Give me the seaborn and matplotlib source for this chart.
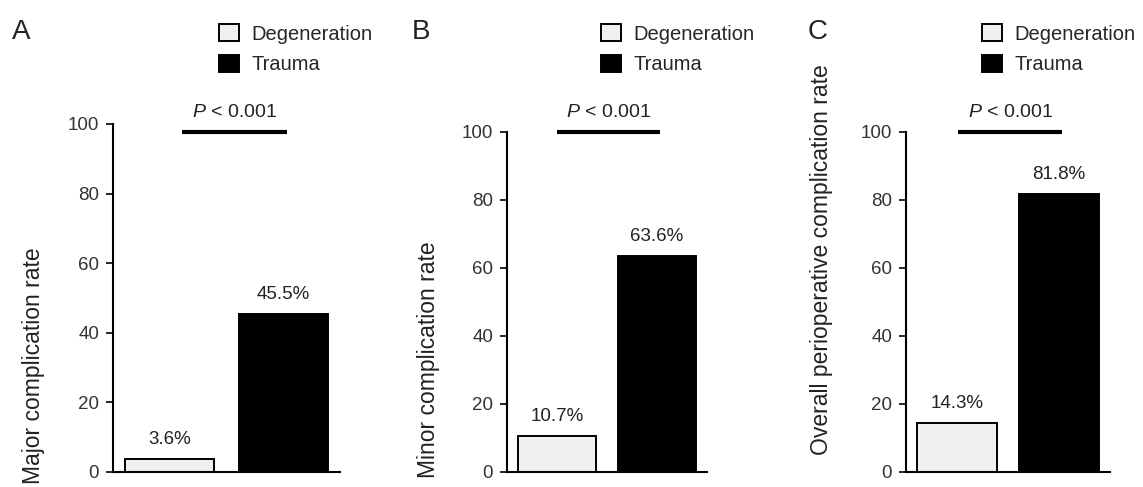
import pandas as pd
import matplotlib
matplotlib.use("Agg")
import matplotlib.pyplot as plt
import seaborn as sns

# data
groups = ["Degeneration", "Trauma"]
major_rate = [3.6, 45.5]
minor_rate = [10.7, 63.6]
overall_rate = [14.3, 81.8]
panel_letters = ["A", "B", "C"]
y_titles = ["Major complication rate", "Minor complication rate",
            "Overall perioperative complication rate"]
p_text = "$\\it{P}$ < 0.001"
y_ticks = [0, 20, 40, 60, 80, 100]

sns.set_style("ticks")
plt.rcParams["font.family"] = ["Liberation Sans", "DejaVu Sans"]
plt.rcParams["mathtext.fontset"] = "custom"
plt.rcParams["mathtext.rm"] = "Liberation Sans"
plt.rcParams["mathtext.it"] = "Liberation Sans:italic"

colors = {"Degeneration": "#f0f0f0", "Trauma": "black"}
W, H = 1143, 487
fig = plt.figure(figsize=(W / 100, H / 100), dpi=100)

# layout in pixels: left, top, right (bottom at 472 for all)
boxes = [(113, 124, 340), (507, 132, 707), (906, 132, 1110)]
leg_x = [219, 601, 982]
letter_x = [12, 412, 808]
label_xy = [(-0.30, 0.305), (-0.335, 0.33), (-0.358, 0.625)]
pbar = [(0.11, 1.03, 97.7), (0.0, 1.03, 100), (0.01, 1.03, 100)]

rates = [major_rate, minor_rate, overall_rate]
for i, vals in enumerate(rates):
    l, t, r = boxes[i]
    ax = fig.add_axes([l / W, (H - 472) / H, (r - l) / W, (472 - t) / H])
    df = pd.DataFrame({"group": groups, "rate": vals})
    sns.barplot(data=df, x="group", y="rate", hue="group", palette=colors,
                edgecolor="black", linewidth=1.4, width=0.78, legend=False,
                ax=ax)
    ax.set_xlim(-0.5, 1.5)
    ax.set_ylim(0, 100)
    ax.set_yticks(y_ticks)
    ax.set_xticks([])
    ax.set_xlabel("")
    ax.set_ylabel(y_titles[i], fontsize=16.5, color="#222222")
    ax.yaxis.set_label_coords(*label_xy[i])
    ax.tick_params(axis="y", labelsize=13.5, labelcolor="#333333", length=5,
                   width=1.2, pad=5, color="black")
    sns.despine(ax=ax)
    for sp in ["left", "bottom"]:
        ax.spines[sp].set_linewidth(1.5)
        ax.spines[sp].set_color("black")
    for c in ax.containers:
        ax.bar_label(c, fmt="%.1f%%", padding=8, fontsize=13.5, color="#222222")

    # significance bar
    x0, x1, yb = pbar[i]
    ax.plot([x0, x1], [yb, yb], color="black", lw=3, clip_on=False,
            solid_capstyle="butt")
    ax.annotate(p_text, xy=((x0 + x1) / 2, yb), xytext=(0, 10.5),
                textcoords="offset points", ha="center", va="baseline",
                fontsize=14, color="#222222", annotation_clip=False)

    # legend
    handles = [c.patches[0] for c in ax.containers]
    ax.legend(handles, groups, loc="upper left",
              bbox_to_anchor=(leg_x[i] / W, 1 - 24.5 / H),
              bbox_transform=fig.transFigure, frameon=False, fontsize=14.5,
              handlelength=1.0, handleheight=0.9, handletextpad=0.6,
              labelspacing=0.55, borderpad=0, borderaxespad=0)

    fig.text(letter_x[i] / W, 1 - 39 / H, panel_letters[i], fontsize=20,
             ha="left", va="baseline", color="#222222")

fig.savefig("out.png", dpi=100)
